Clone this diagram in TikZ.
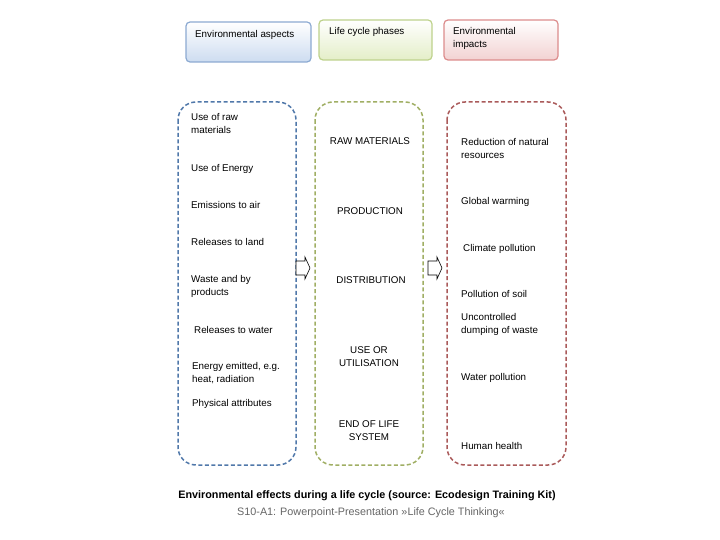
\documentclass[tikz,border=0pt]{standalone}
\usepackage{fontspec}
\setmainfont{Liberation Sans}
\definecolor{hb}{RGB}{140,170,210}
\definecolor{hg}{RGB}{190,210,140}
\definecolor{hr}{RGB}{220,140,140}
\definecolor{fb}{RGB}{205,220,240}
\definecolor{fg}{RGB}{228,238,200}
\definecolor{fr}{RGB}{242,210,210}
\definecolor{db}{RGB}{80,120,170}
\definecolor{dg}{RGB}{160,175,100}
\definecolor{dr}{RGB}{170,90,90}
\begin{document}
\begin{tikzpicture}[x=1pt,y=-1pt,
 hdr/.style 2 args={draw=#1,line width=1.2pt,rounded corners=4pt,top color=white,bottom color=#2},
 col/.style={draw=#1,line width=1.5pt,rounded corners=18pt,dash pattern=on 4pt off 2.5pt},
 t/.style={font=\fontsize{9.8}{13.5}\selectfont,align=left,anchor=north west,inner sep=0pt},
 tc/.style={font=\fontsize{9.8}{13.5}\selectfont,align=center,anchor=north,inner sep=0pt},
 arr/.style={draw,line width=0.6pt,fill=white}]
\useasboundingbox (0,0) rectangle (720,540);
\fill[white] (0,0) rectangle (720,540);
\draw[hdr={hb}{fb}] (186,22) rectangle (311,62);
\draw[hdr={hg}{fg}] (319,20) rectangle (432,60);
\draw[hdr={hr}{fr}] (444,20) rectangle (558,60);
\node[t] (h1) at (195,30) {Environmental aspects};
\node[t] (h2) at (329,27) {Life cycle phases};
\node[t] (h3) at (453,27) {Environmental\\impacts};
\draw[col=db] (178,102) rectangle (296,465);
\draw[col=dg] (315,102) rectangle (423,465);
\draw[col=dr] (447,102) rectangle (566,465);
\foreach \x in {296,428}{
 \draw[arr] (\x,261) -- (\x+9,261) -- (\x+9,257) -- (\x+14,268) -- (\x+9,279) -- (\x+9,275) -- (\x,275) -- cycle;}
\node[t] (a1) at (191,113) {Use of raw\\materials};
\node[t] (a2) at (191,164) {Use of Energy};
\node[t] (a3) at (191,201) {Emissions to air};
\node[t] (a4) at (191,238) {Releases to land};
\node[t] (a5) at (191,275) {Waste and by\\products};
\node[t] (a6) at (194,326) {Releases to water};
\node[t] (a7) at (192,362) {Energy emitted, e.g.\\heat, radiation};
\node[t] (a8) at (192,399) {Physical attributes};
\node[tc] (p1) at (370,137) {RAW MATERIALS};
\node[tc] (p2) at (370,207) {PRODUCTION};
\node[tc] (p3) at (371,276) {DISTRIBUTION};
\node[tc] (p4) at (369,346) {USE OR\\UTILISATION};
\node[tc] (p5) at (369,420) {END OF LIFE\\SYSTEM};
\node[t] (i1) at (461,138) {Reduction of natural\\resources};
\node[t] (i2) at (461,197) {Global warming};
\node[t] (i3) at (463,244) {Climate pollution};
\node[t] (i4) at (461,290) {Pollution of soil};
\node[t] (i5) at (461,313) {Uncontrolled\\dumping of waste};
\node[t] (i6) at (461,373) {Water pollution};
\node[t] (i7) at (461,442) {Human health};
\node[font=\fontsize{10.8}{13}\selectfont\bfseries] (c1) at (367,496) {Environmental effects during a life cycle (source: Ecodesign Training Kit)};
\node[font=\fontsize{10.8}{13}\selectfont,text=gray!80!black] (c2) at (371,513) {S10-A1: Powerpoint-Presentation »Life Cycle Thinking«};
\end{tikzpicture}
\end{document}
